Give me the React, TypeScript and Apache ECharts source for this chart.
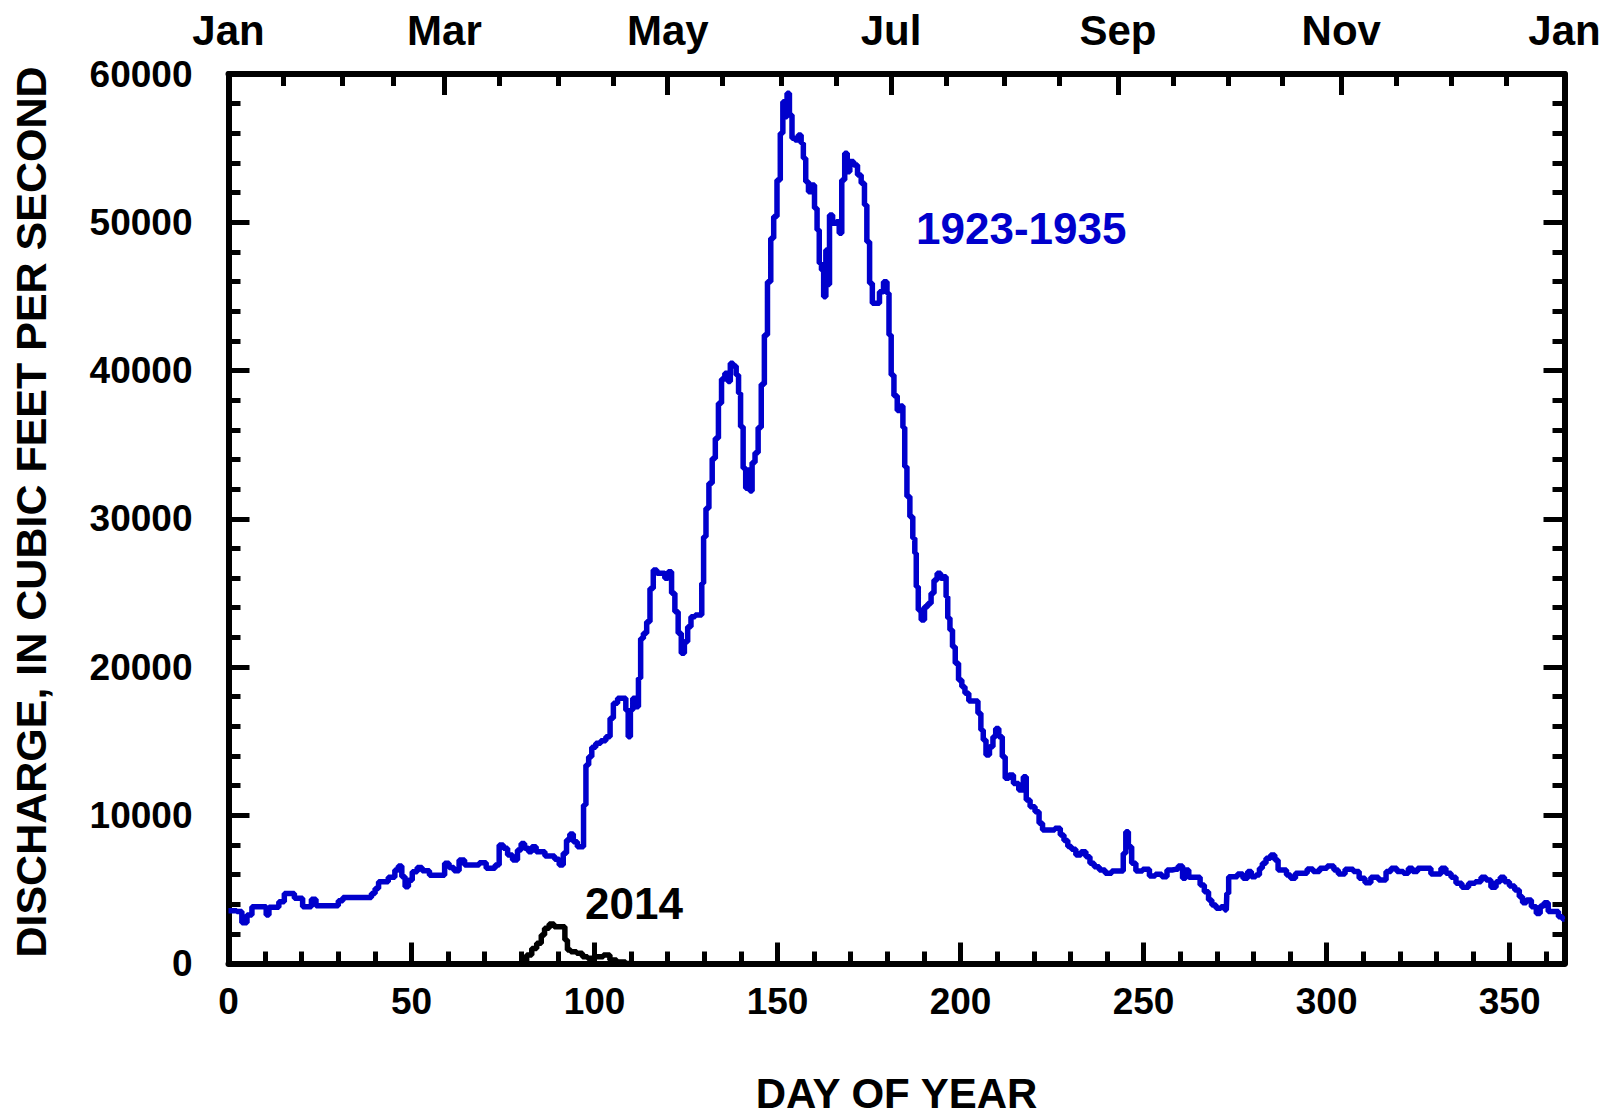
import React, { useEffect, useRef } from 'react';
import * as echarts from 'echarts';

const FONT = '"Liberation Sans", Arial, Helvetica, sans-serif';

// 1923-1935 mean daily discharge (day of year, cfs)
const DAYS_1923_1935 = [
  0, 1.5, 3, 4.3, 5.8, 7, 8.5, 10, 10.6, 11.5, 13, 14.5, 16, 17.5, 18.5, 19.7, 20.8, 22, 23.3, 24.5,
  27, 29.5, 30.5, 32, 35.5, 38.5, 39.6, 40.5, 41.5, 43, 44.3, 45, 45.9, 46.9, 47.8, 48.7, 49.6, 50.8, 52.3, 53.5,
  54.3, 55.5, 57, 58.5, 59.6, 60.9, 62.3, 63.7, 65.3, 67.5, 69.5, 71.3, 72.4, 73.3, 74.6, 75.6, 76.9, 78.3, 79.6, 80.3,
  81.5, 82.4, 83.3, 84.8, 85.9, 87, 88.5, 89.7, 91, 91.9, 92.8, 93.7, 94.7, 95.9, 96.7, 97.3, 98, 98.8, 99.7, 101,
  102.4, 103.8, 104.7, 105.6, 107, 108.2, 108.9, 109.5, 110.1, 110.8, 111.7, 112.3, 112.9, 113.8, 114.7, 115.6, 116.5, 117.6, 118.8, 119.6,
  120.6, 121.5, 122.4, 123.3, 124.1, 125, 125.9, 126.8, 128.2, 129.1, 129.5, 130.1, 130.8, 131.7, 132.6, 133.4, 134.3, 135.1, 136.1, 136.8,
  137.4, 138.3, 139.1, 139.6, 140.2, 141, 141.6, 142.2, 142.7, 143.4, 144.3, 145.1, 146, 146.8, 147.7, 148.6, 149.3, 150.4, 151.1, 151.8,
  152.3, 152.9, 153.6, 154.3, 155.2, 156.1, 156.8, 157.3, 158.1, 158.8, 159.7, 160.5, 161.1, 161.7, 162.3, 162.9, 163.5, 163.9, 164.5, 165.6,
  166.5, 167.2, 167.9, 168.8, 169.3, 170.2, 171.4, 172.3, 173.4, 174.1, 174.7, 175.6, 176.2, 177.4, 178.3, 179.6, 180.2, 180.7, 181.4, 182.2,
  183.2, 184, 184.5, 185, 185.7, 186.6, 187.3, 187.7, 188.1, 188.8, 189.7, 190.6, 191.5, 192.4, 193.1, 194.1, 195, 195.8, 196.3, 196.7,
  197.5, 198.1, 199, 199.9, 200.8, 201.6, 202.9, 204.3, 205.2, 205.9, 206.5, 207.4, 208.4, 209.3, 209.9, 211, 211.8, 212.6, 213.8, 215.1,
  216.7, 217.6, 218.3, 219.7, 221, 221.9, 222.9, 224.7, 226.8, 227.7, 228.8, 229.8, 230.8, 232.2, 233.6, 234.9, 235.8, 237.2, 238.6, 240.4,
  242.2, 244, 244.9, 245.4, 246.3, 247.2, 248.6, 250.9, 252.3, 254.1, 255.9, 256.9, 258.7, 260.2, 261.1, 261.9, 262.8, 265, 265.9, 267.3,
  268.2, 269.1, 270.5, 271.8, 272.6, 272.9, 273.6, 275, 276.3, 278, 278.9, 280, 281.3, 282, 282.9, 284, 285.4, 286.3, 287.2, 288.6,
  289.5, 290.8, 292.2, 294, 295.4, 297.2, 299, 301.3, 302.7, 303.7, 306.4, 308.2, 309.6, 311.4, 312.8, 315.6, 316.9, 318.3, 320.1, 321.9,
  322.8, 324.2, 325.5, 327.8, 329.2, 330.6, 331.9, 333.3, 334.7, 336, 337.9, 339.7, 341.5, 342.9, 344.2, 345.6, 347, 347.9, 349.3, 350.6,
  352.2, 353.1, 354, 355.2, 356.7, 357.9, 358.8, 360, 361.1, 362.9, 363.8, 365,
];
const FLOW_1923_1935 = [
  3550, 3550, 3500, 2750, 3270, 3830, 3830, 3830, 3270, 3800, 3800, 4170, 4730, 4730, 4400, 4400, 3830, 3830, 4330, 3900,
  3900, 3900, 4230, 4460, 4460, 4460, 4730, 5060, 5520, 5520, 5810, 5810, 6300, 6570, 5850, 5170, 5620, 6190, 6480, 6250,
  6250, 5960, 5960, 5960, 6760, 6480, 6250, 6980, 6650, 6650, 6800, 6420, 6420, 6650, 7990, 7770, 7320, 6980, 7650, 8100,
  7770, 7540, 7880, 7540, 7540, 7250, 7250, 7030, 6650, 7430, 8330, 8730, 8210, 7880, 7880, 10690, 13390, 13950, 14580, 14850,
  15030, 15300, 16540, 17550, 17890, 17890, 17080, 15300, 17100, 17890, 17320, 19240, 21930, 22270, 23060, 25300, 26540, 26320, 26320, 25980,
  26430, 24970, 23730, 22270, 20920, 21710, 22720, 23390, 23510, 23510, 25650, 28790, 30700, 32390, 34070, 35430, 37790, 39430, 39810, 39250,
  40490, 40300, 39700, 38460, 36210, 33400, 32050, 33290, 31880, 33800, 34460, 36150, 39080, 42400, 45990, 48920, 50380, 52850, 56000, 58130,
  57120, 58700, 57240, 55660, 55550, 55890, 55330, 54310, 52740, 52060, 52510, 50940, 49480, 47230, 46780, 44980, 48130, 45800, 50490, 49930,
  50040, 49250, 52850, 54650, 53410, 54090, 53860, 53190, 52630, 51160, 48690, 45880, 44530, 44530, 45320, 45990, 45210, 42400, 39700, 38300,
  37300, 37600, 36150, 33500, 31500, 30140, 28680, 27670, 25420, 23850, 23170, 24070, 24290, 24970, 25870, 26320, 25980, 26090, 24740, 23300,
  22500, 21370, 20250, 19120, 18670, 18230, 17710, 17710, 16880, 15750, 15080, 14060, 14620, 15300, 15860, 15300, 13950, 12490, 12710, 12150,
  11700, 12600, 11030, 10580, 10240, 9460, 9000, 9000, 9120, 8670, 8300, 7900, 7700, 7320, 7540, 7200, 6760, 6530, 6310, 6080,
  6240, 6240, 7430, 8890, 7880, 6760, 6240, 6350, 5900, 6020, 5860, 6310, 6350, 6580, 5750, 6310, 5810, 5810, 5300, 4840,
  4280, 3950, 3720, 3830, 3610, 4730, 5860, 5860, 6040, 5750, 6200, 5860, 5970, 6420, 6760, 7100, 7320, 6980, 6310, 6310,
  5970, 5750, 6080, 6080, 6380, 6200, 6420, 6580, 6310, 6040, 6350, 6200, 5750, 5450, 5810, 5630, 6200, 6420, 6200, 6080,
  6420, 6200, 6420, 6420, 6040, 6040, 6420, 6080, 5810, 5410, 5140, 5410, 5520, 5810, 5630, 5140, 5520, 5810, 5520, 5230,
  4960, 4510, 4100, 4280, 3830, 3380, 3880, 4100, 3500, 3500, 3160, 3000,
];

// 2014 daily discharge (day of year, cfs)
const DAYS_2014 = [80.5, 82.4, 83.3, 85.1, 85.8, 86.9, 88.3, 89.6, 91.4, 92.4, 92.8, 94.2, 96, 97.4, 98.8, 101.5, 103.3, 105.1, 107, 110];
const FLOW_2014 = [0, 570, 1020, 1360, 1920, 2370, 2660, 2480, 2480, 1590, 910, 800, 690, 460, 350, 460, 570, 230, 100, 0];

// axis ticks
const DAY_MAJOR = [0, 50, 100, 150, 200, 250, 300, 350];
const DAY_MINOR = [10, 20, 30, 40, 60, 70, 80, 90, 110, 120, 130, 140, 160, 170, 180, 190, 210, 220, 230, 240, 260, 270, 280, 290, 310, 320, 330, 340, 360];
const MONTH_DAYS = [0, 59, 120, 181, 243, 304, 365];
const MONTH_LABELS = ['Jan', 'Mar', 'May', 'Jul', 'Sep', 'Nov', 'Jan'];
const MONTH_MINOR = [15, 31, 45, 74, 90, 105, 135, 151, 166, 196, 212, 227, 258, 273, 288, 319, 334, 349];
const FLOW_MAJOR = [0, 10000, 20000, 30000, 40000, 50000, 60000];
const FLOW_MINOR = [2000, 4000, 6000, 8000, 12000, 14000, 16000, 18000, 22000, 24000, 26000, 28000, 32000, 34000, 36000, 38000, 42000, 44000, 46000, 48000, 52000, 54000, 56000, 58000];

const LINE_W = 6;
const TICK_W = 5;

function axis(position: string, min: number, max: number, ticks: number[], len: number, showLine: boolean, label?: any) {
  return {
    type: 'value',
    position,
    min,
    max,
    axisLine: { show: showLine, onZero: false, lineStyle: { color: '#000', width: LINE_W } },
    axisTick: { show: true, inside: true, length: len, customValues: ticks, lineStyle: { color: '#000', width: TICK_W } },
    axisLabel: label ? label : { show: false },
    splitLine: { show: false },
    minorTick: { show: false },
  };
}

const labelStyle = { color: '#000', fontFamily: FONT, fontWeight: 'bold' };

export default function App() {
  const ref = useRef<HTMLDivElement>(null);
  useEffect(() => {
    const chart = echarts.init(ref.current!, null, { renderer: 'svg' });
    const blue = DAYS_1923_1935.map((d, i) => [d, FLOW_1923_1935[i]]);
    const black = DAYS_2014.map((d, i) => [d, FLOW_2014[i]]);
    chart.setOption({
      animation: false,
      backgroundColor: '#fff',
      grid: { left: 228.5, top: 74, right: 49.5, bottom: 153.5, containLabel: false },
      xAxis: [
        axis('bottom', 0, 365, DAY_MAJOR, 21, true, {
          show: true, customValues: DAY_MAJOR, fontSize: 37, margin: 19, ...labelStyle,
          formatter: (v: number) => String(v),
        }),
        axis('bottom', 0, 365, DAY_MINOR, 12, false),
        axis('top', 0, 365, MONTH_DAYS, 21, true, {
          show: true, customValues: MONTH_DAYS, fontSize: 42, margin: 23, ...labelStyle,
          formatter: (v: number) => MONTH_LABELS[MONTH_DAYS.indexOf(Math.round(v))] ?? '',
        }),
        axis('top', 0, 365, MONTH_MINOR, 12, false),
      ],
      yAxis: [
        axis('left', 0, 60000, FLOW_MAJOR, 21, true, {
          show: true, customValues: FLOW_MAJOR, fontSize: 37, margin: 36, ...labelStyle,
          formatter: (v: number) => String(v),
        }),
        axis('left', 0, 60000, FLOW_MINOR, 12, false),
        axis('right', 0, 60000, FLOW_MAJOR, 21, true),
        axis('right', 0, 60000, FLOW_MINOR, 12, false),
      ],
      series: [
        {
          type: 'line', name: '1923-1935', xAxisIndex: 0, yAxisIndex: 0, data: blue, step: 'middle',
          showSymbol: false, lineStyle: { color: '#0000CC', width: 5.5 }, z: 1,
        },
        {
          type: 'line', name: '2014', xAxisIndex: 0, yAxisIndex: 0, data: black, step: 'middle',
          showSymbol: false, lineStyle: { color: '#000', width: 5.5 }, z: 1,
        },
      ],
      graphic: [
        {
          type: 'text', x: 896.5, y: 1093,
          style: { text: 'DAY OF YEAR', fontSize: 42, fontWeight: 'bold', fontFamily: FONT, fill: '#000', align: 'center', verticalAlign: 'middle' },
        },
        {
          type: 'text', x: 31, y: 512, rotation: Math.PI / 2,
          style: { text: 'DISCHARGE, IN CUBIC FEET PER SECOND', fontSize: 43, fontWeight: 'bold', fontFamily: FONT, fill: '#000', align: 'center', verticalAlign: 'middle' },
        },
        {
          type: 'text', x: 916, y: 228,
          style: { text: '1923-1935', fontSize: 44, fontWeight: 'bold', fontFamily: FONT, fill: '#0000CC', align: 'left', verticalAlign: 'middle' },
        },
        {
          type: 'text', x: 585, y: 903,
          style: { text: '2014', fontSize: 44, fontWeight: 'bold', fontFamily: FONT, fill: '#000', align: 'left', verticalAlign: 'middle' },
        },
      ],
    });
    return () => chart.dispose();
  }, []);
  return <div ref={ref} style={{ position: 'absolute', left: 0, top: 0, width: 1614, height: 1117, background: '#fff' }} />;
}
